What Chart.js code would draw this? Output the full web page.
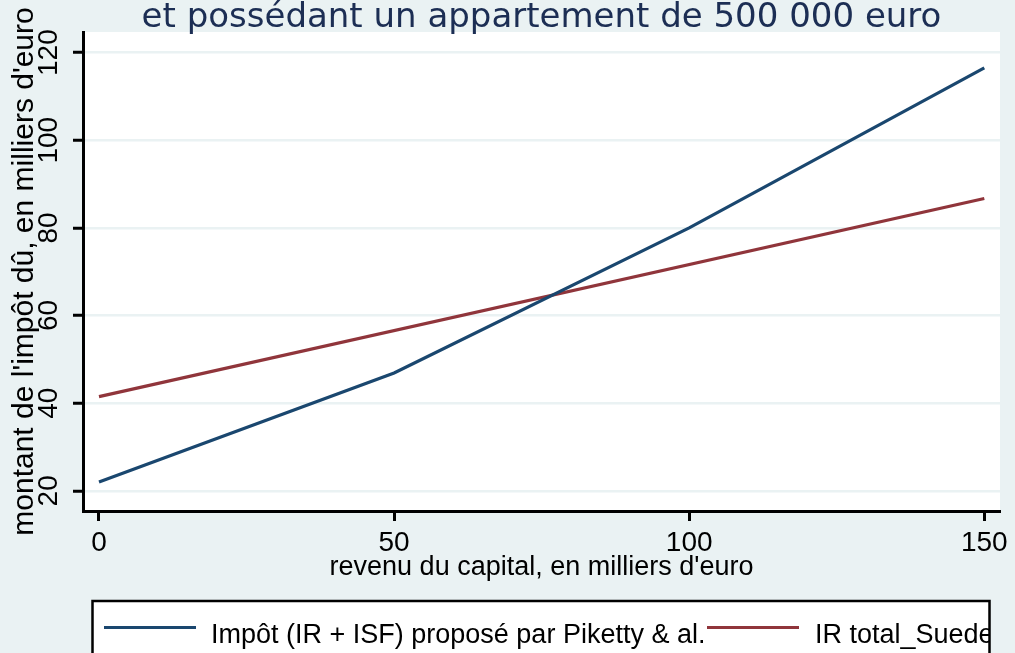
<!DOCTYPE html>
<html>
<head>
<meta charset="utf-8">
<script src="https://cdn.jsdelivr.net/npm/chart.js@4/dist/chart.umd.min.js"></script>
<style>
  html, body { margin: 0; padding: 0; background: #EAF2F3; overflow: hidden; }
  canvas { display: block; }
</style>
</head>
<body>
<canvas id="c" width="1015" height="653"></canvas>
<script>
// ---- data ----
const revenuPiketty = [0, 50, 100, 150];
const impotPiketty = [22, 46.9, 80, 116.5];
const revenuSuede = [0, 150];
const irSuede = [41.5, 86.7];
const xTickValues = [0, 50, 100, 150];
const yTickValues = [20, 40, 60, 80, 100, 120];
const seriesLabels = ["Impôt (IR + ISF) proposé par Piketty & al.", "IR total_Suede"];
const titleText = "et possédant un appartement de 500 000 euro";
const xTitleText = "revenu du capital, en milliers d'euro";
const yTitleText = "montant de l'impôt dû, en milliers d'euro";

const BG = '#EAF2F3';
const BLUE = '#1A476F';
const RED = '#90353B';
const AXFONT = "'Liberation Sans', Arial, sans-serif";

const bgPlugin = {
  id: 'bg',
  beforeDraw(chart) {
    const { ctx, chartArea: a } = chart;
    ctx.save();
    ctx.fillStyle = BG;
    ctx.fillRect(0, 0, chart.width, chart.height);
    ctx.fillStyle = '#FFFFFF';
    ctx.fillRect(a.left, a.top, a.right - a.left, a.bottom - a.top);
    ctx.restore();
  }
};

const legendBoxPlugin = {
  id: 'legendBox',
  afterDraw(chart) {
    const { ctx } = chart;
    const left = 92.5, top = 601, right = 989.5, bottom = 670;
    ctx.save();
    ctx.fillStyle = '#FFFFFF';
    ctx.fillRect(left, top, right - left, bottom - top);
    ctx.beginPath();
    ctx.rect(left, top, right - left, bottom - top);
    ctx.clip();
    const items = [
      { x0: 104, x1: 196, tx: 211 },
      { x0: 707, x1: 799, tx: 815 }
    ];
    chart.data.datasets.forEach((ds, i) => {
      const it = items[i];
      ctx.strokeStyle = ds.borderColor;
      ctx.lineWidth = 3;
      ctx.beginPath();
      ctx.moveTo(it.x0, 627.5);
      ctx.lineTo(it.x1, 627.5);
      ctx.stroke();
      ctx.fillStyle = '#000000';
      ctx.font = "27px " + AXFONT;
      ctx.textBaseline = 'alphabetic';
      ctx.textAlign = 'left';
      ctx.fillText(ds.label, it.tx, 643);
    });
    ctx.restore();
    ctx.save();
    ctx.strokeStyle = '#000000';
    ctx.lineWidth = 2.5;
    ctx.beginPath();
    ctx.moveTo(left, bottom);
    ctx.lineTo(left, top);
    ctx.lineTo(right, top);
    ctx.lineTo(right, bottom);
    ctx.stroke();
    ctx.restore();
  }
};

new Chart(document.getElementById('c'), {
  type: 'line',
  data: {
    datasets: [
      {
        label: seriesLabels[0],
        data: revenuPiketty.map((x, i) => ({ x, y: impotPiketty[i] })),
        borderColor: BLUE,
        borderWidth: 3.2,
        pointRadius: 0,
        tension: 0,
        fill: false
      },
      {
        label: seriesLabels[1],
        data: revenuSuede.map((x, i) => ({ x, y: irSuede[i] })),
        borderColor: RED,
        borderWidth: 3.2,
        pointRadius: 0,
        tension: 0,
        fill: false
      }
    ]
  },
  options: {
    responsive: false,
    devicePixelRatio: 1,
    animation: false,
    layout: { padding: { left: 0, right: 15, top: 0, bottom: 0 } },
    plugins: {
      legend: { display: false },
      tooltip: { enabled: false },
      title: {
        display: true,
        text: titleText,
        fullSize: false,
        color: '#1C2E54',
        font: { family: "'DejaVu Sans', Verdana, sans-serif", size: 34, weight: 'normal', lineHeight: 1 },
        padding: { top: 1, bottom: -3 }
      }
    },
    scales: {
      x: {
        type: 'linear',
        min: -2.71,
        max: 152.66,
        afterBuildTicks(scale) { scale.ticks = xTickValues.map(v => ({ value: v })); },
        afterFit(scale) { scale.height = 142; },
        border: { display: true, color: '#000000', width: 3 },
        grid: { drawOnChartArea: false, drawTicks: true, tickLength: 10, tickColor: '#000000', tickWidth: 3 },
        ticks: {
          autoSkip: false, maxRotation: 0, minRotation: 0, padding: 5,
          color: '#000000',
          font: { family: AXFONT, size: 28 },
          callback: v => String(v)
        },
        title: {
          display: true,
          text: xTitleText,
          color: '#000000',
          font: { family: AXFONT, size: 27 },
          padding: { top: 0, bottom: 68.8 }
        }
      },
      y: {
        type: 'linear',
        min: 15.4,
        max: 124.7,
        afterBuildTicks(scale) { scale.ticks = yTickValues.map(v => ({ value: v })); },
        afterFit(scale) { scale.width = 83; },
        border: { display: true, color: '#000000', width: 3 },
        grid: { drawOnChartArea: true, color: BG, lineWidth: 2.5, drawTicks: true, tickLength: 10, tickColor: '#000000', tickWidth: 3 },
        ticks: {
          autoSkip: false, minRotation: 90, maxRotation: 90, crossAlign: 'center', padding: 0,
          color: '#000000',
          font: { family: AXFONT, size: 28 },
          callback: v => String(v)
        },
        title: {
          display: true,
          text: yTitleText,
          color: '#000000',
          font: { family: AXFONT, size: 30 },
          padding: { top: 7, bottom: 0 }
        }
      }
    }
  },
  plugins: [bgPlugin, legendBoxPlugin]
});
</script>
</body>
</html>
